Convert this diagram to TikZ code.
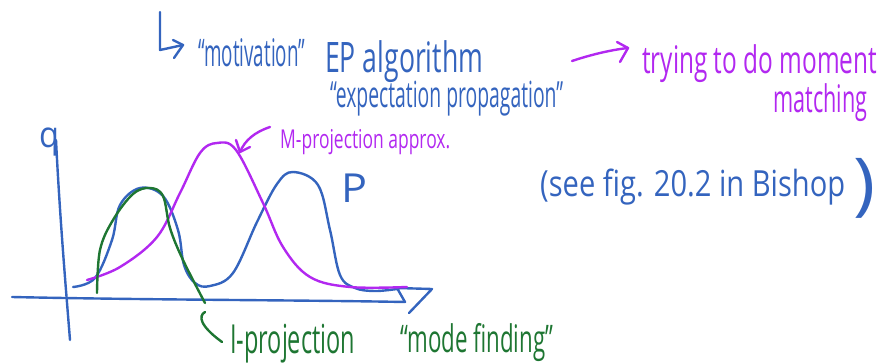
\documentclass[tikz,border=0pt]{standalone}
\usepackage{fontspec}
\setmainfont{Open Sans}
\usepackage{graphicx}
\newsavebox\fitbox
\newcommand\fitw[2]{\sbox\fitbox{#2}\pgfmathsetmacro\fitsc{#1/\wd\fitbox}\scalebox{\fitsc}[1]{\usebox\fitbox}}
\definecolor{inkblue}{RGB}{52,100,190}
\definecolor{inkpurple}{RGB}{178,40,240}
\definecolor{inkgreen}{RGB}{30,118,50}
\begin{document}
\begin{tikzpicture}[x=1pt,y=-1pt,line cap=round,line join=round,
  ink/.style={line width=2.4pt},
  lbl/.style={inner sep=0pt,anchor=base west},
  sz/.style={font=\fontsize{#1}{#1}\selectfont}]
\useasboundingbox (0,0) rectangle (887,364);

% ---------- top texts ----------
\node[lbl,sz=38,text=inkblue] (motiv) at (198,66) {\fitw{107}{``motivation''}};
\node[lbl,sz=42,text=inkblue] (ep) at (325,72) {\fitw{158}{EP algorithm}};
\node[lbl,sz=36,text=inkblue] (prop) at (330,107) {\fitw{233}{``expectation propagation''}};
\node[lbl,sz=38,text=inkpurple] (try) at (642,73) {\fitw{235}{trying to do moment}};
\node[lbl,sz=38,text=inkpurple] (match) at (773,112) {\fitw{94}{matching}};
\node[lbl,sz=36,text=inkblue] (see) at (540,196) {\fitw{305}{(see fig. 20.2 in Bishop}};
\node[inner sep=0pt,anchor=north west,sz=30,text=inkblue] (close) at (853,158) {\resizebox*{22pt}{60pt}{)}};

% hook arrow
\coordinate (h0) at (160,12);
\coordinate (h1) at (160,50);
\coordinate (h2) at (183,45);
\draw[ink,draw=inkblue] (h0) -- (h1) -- (h2);
\draw[ink,draw=inkblue] (173,40) -- (h2) -- (174,58);

% purple arrow
\coordinate (p0) at (572,61);
\coordinate (p1) at (628,48);
\draw[ink,draw=inkpurple] (p0) .. controls (590,55) and (610,50) .. (p1);
\draw[ink,draw=inkpurple] (617,42) -- (p1) -- (620,62);

% ---------- axes ----------
\node[lbl,sz=36,text=inkblue] (q) at (39,147) {\fitw{20}{q}};
\coordinate (ytop) at (56,140);
\coordinate (ybot) at (70,340);
\draw[ink,draw=inkblue] (ytop) .. controls (60,220) and (66,290) .. (ybot);
\coordinate (xl) at (12,297);
\coordinate (xr) at (405,302);
\draw[ink,draw=inkblue] (xl) .. controls (150,300) and (300,300) .. (xr)
  -- (397,288) -- (432,289) -- (409,313);

% ---------- curves ----------
% P (blue)
\draw[ink,draw=inkblue] plot[smooth,tension=0.6] coordinates {
 (73,287) (95,278) (112,240) (120,205) (140,188) (163,196) (178,230)
 (184,265) (195,283) (210,286) (233,273) (257,222) (277,184) (293,172)
 (318,185) (330,230) (340,275) (355,288) (375,291) (397,289)};
\node[lbl,sz=40,text=inkblue] (P) at (341,202) {\fitw{26}{P}};

% M-projection (purple)
\draw[ink,draw=inkpurple] plot[smooth,tension=0.6] coordinates {
 (87,280) (120,267) (157,237) (180,193) (200,153) (217,143) (236,150)
 (263,203) (283,247) (310,277) (350,287) (407,287)};
\node[lbl,sz=26,text=inkpurple] (mproj) at (280,148) {\fitw{170}{M-projection approx.}};
\coordinate (m0) at (270,127);
\coordinate (m1) at (240,152);
\draw[ink,draw=inkpurple] (m0) .. controls (255,132) and (245,140) .. (m1);
\draw[ink,draw=inkpurple] (236,140) -- (m1) -- (250,147);

% I-projection (green)
\draw[ink,draw=inkgreen] plot[smooth,tension=0.6] coordinates {
 (97,293) (100,250) (113,220) (133,194) (150,188) (163,196) (170,228)
 (183,260) (205,303)};
\coordinate (g0) at (205,312);
\coordinate (g1) at (222,342);
\draw[ink,draw=inkgreen] (g0) .. controls (198,316) and (200,326) .. (g1);
\node[lbl,sz=40,text=inkgreen] (iproj) at (230,353) {\fitw{125}{I-projection}};
\node[lbl,sz=38,text=inkgreen] (mode) at (400,352) {\fitw{153}{``mode finding''}};
\end{tikzpicture}
\end{document}
